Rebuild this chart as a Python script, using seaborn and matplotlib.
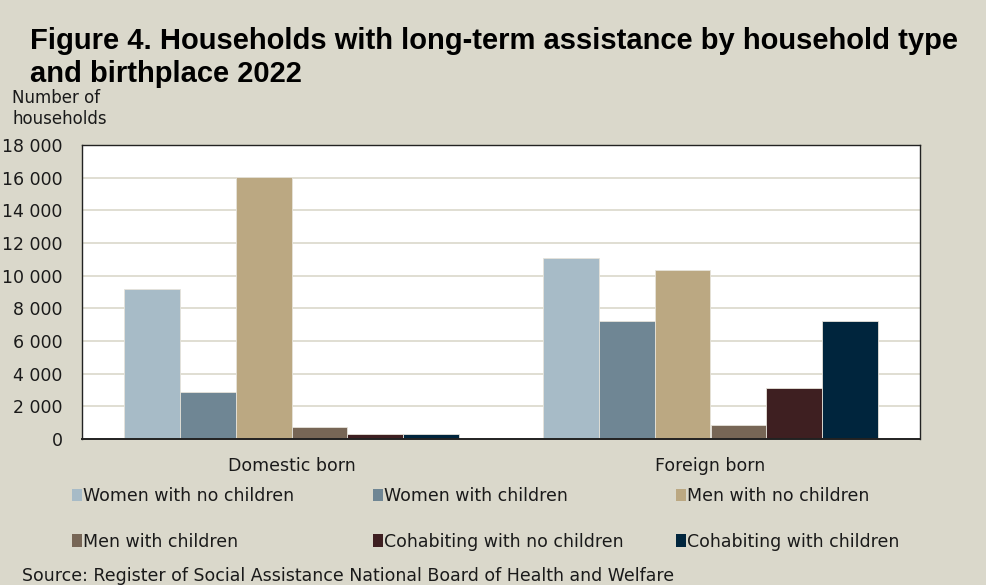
import matplotlib
matplotlib.use("Agg")
import matplotlib.pyplot as plt
import matplotlib.ticker as mticker
import seaborn as sns
import pandas as pd
from matplotlib.patches import Patch

categories = ["Domestic born", "Foreign born"]
household_types = [
    "Women with no children",
    "Women with children",
    "Men with no children",
    "Men with children",
    "Cohabiting with no children",
    "Cohabiting with children",
]
domestic_values = [9200, 2900, 16050, 750, 290, 300]
foreign_values = [11100, 7200, 10350, 850, 3100, 7250]
colors = ["#A7BBC7", "#6F8694", "#BBA882", "#776656", "#3E1F21", "#00253D"]
yticks = list(range(0, 18001, 2000))

rows = []
for cat, vals in zip(categories, [domestic_values, foreign_values]):
    for ht, v in zip(household_types, vals):
        rows.append({"birthplace": cat, "type": ht, "value": v})
df = pd.DataFrame(rows)

sns.set_theme(style="white")
plt.rcParams["font.family"] = ["DejaVu Sans"]

bg = "#DAD8CB"
fig = plt.figure(figsize=(9.86, 5.85), dpi=100, facecolor=bg)
ax = fig.add_axes([82 / 986, 1 - 439 / 585, (920 - 82) / 986, (439 - 145) / 585])
ax.set_facecolor("white")

sns.barplot(data=df, x="birthplace", y="value", hue="type", order=categories,
            hue_order=household_types, palette=colors, saturation=1, width=0.8,
            edgecolor="#E6E3DA", linewidth=0.6, legend=False, ax=ax, zorder=3)

ax.set_ylim(0, 18000)
ax.set_xlim(-0.5, 1.5)
ax.set_yticks(yticks)
ax.yaxis.set_major_formatter(mticker.FuncFormatter(lambda v, p: f"{int(v):,}".replace(",", " ")))
ax.grid(axis="y", color="#DAD8CB", linewidth=1.2, zorder=0)
ax.set_axisbelow(True)
ax.set_xlabel("")
ax.set_ylabel("")
ax.tick_params(axis="y", length=0, labelsize=12.5, pad=14, labelcolor="#1a1a1a")
ax.tick_params(axis="x", which="major", length=0, labelsize=12.5, pad=13, labelcolor="#1a1a1a")
ax.set_xticks([0.5], minor=True)
ax.tick_params(axis="x", which="minor", direction="in", length=6, width=1, color="#333333")
for s in ax.spines.values():
    s.set_visible(True)
    s.set_color("#222222")
    s.set_linewidth(1.0)
    s.set_zorder(5)
ax.spines["bottom"].set_linewidth(1.4)

fig.text(30 / 986, 1 - 27 / 585,
         "Figure 4. Households with long-term assistance by household type\nand birthplace 2022",
         fontsize=21, fontweight="bold", family="Liberation Sans", color="black",
         ha="left", va="top", linespacing=1.22)
fig.text(12 / 986, 1 - 89 / 585, "Number of\nhouseholds", fontsize=12, ha="left", va="top",
         color="#1a1a1a", linespacing=1.25)

handles = [Patch(facecolor=c, edgecolor="none", label=l) for c, l in zip(colors, household_types)]
col_x = [72, 373, 676]
for i, x in enumerate(col_x):
    leg = fig.legend(handles=[handles[i], handles[i + 3]], loc="upper left",
                     bbox_to_anchor=(x / 986, 1 - 487 / 585), ncol=1, frameon=False,
                     fontsize=12.5, handlelength=0.55, handleheight=0.75,
                     handletextpad=0.1, labelspacing=1.6, borderaxespad=0, borderpad=0)
    for t in leg.get_texts():
        t.set_color("#1a1a1a")

fig.text(22 / 986, 1 - 576 / 585, "Source: Register of Social Assistance National Board of Health and Welfare",
         fontsize=12.5, ha="left", va="center", color="#1a1a1a")

fig.savefig("out.png", dpi=100, facecolor=bg)
